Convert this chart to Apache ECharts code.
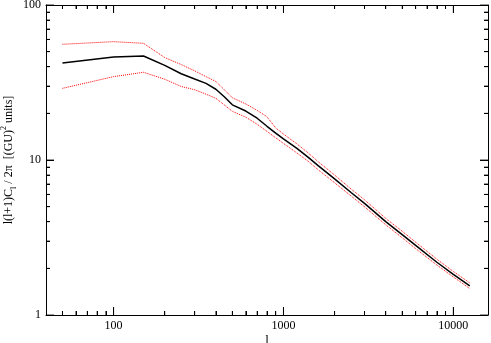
<!DOCTYPE html>
<html>
<head>
<meta charset="utf-8">
<script src="https://cdn.jsdelivr.net/npm/echarts@6/dist/echarts.min.js"></script>
<style>html,body{margin:0;padding:0;background:#fff}#c{width:491px;height:343px}</style>
</head>
<body>
<div id="c"></div>
<script>
const ells = [50,100,150,200,250,300,350,400,450,500,600,700,800,900,1000,1200,1400,1600,2000,2500,3000,4000,5000,6000,8000,10000,12500];
const meanCl = [42.3,46.2,46.9,40.8,36.0,33.3,31.2,28.6,25.5,22.7,20.7,18.6,16.5,14.9,13.7,11.9,10.4,9.2,7.55,6.17,5.25,4.0,3.3,2.81,2.19,1.83,1.54];
const upperCl = [55.8,58.0,56.6,45.8,41.3,37.6,34.5,32.1,28.3,25.2,23.0,20.9,19.0,16.1,14.7,12.7,11.1,9.75,8.0,6.5,5.54,4.2,3.47,2.95,2.29,1.91,1.61];
const lowerCl = [29.0,34.5,36.8,33.2,29.8,28.4,26.6,25.0,22.6,20.6,18.9,17.0,15.3,13.9,12.8,11.1,9.8,8.65,7.13,5.86,4.99,3.82,3.15,2.68,2.10,1.76,1.48];
const xMajor = [100,1000,10000];
const xMinor = [50,60,70,80,90,200,300,400,500,600,700,800,900,2000,3000,4000,5000,6000,7000,8000,9000];
const yMajor = [1,10,100];
const yMinor = [2,3,4,5,6,7,8,9,20,30,40,50,60,70,80,90];
const xTitle = 'l';
const yTitle = '{m|l(l+1)C}{s|l}{m| / 2π  [(GU)}{p|2}{m| units]}';

const FONT = 'Liberation Serif';
const XR = [40,16000], YR = [1,100];
const pair = arr => ells.map((l,i)=>[l,arr[i]]);
const MAJOR_LEN = 8, MINOR_LEN = 4;

function frameAx(r, pos, labels){
  return {
    type:'log', min:r[0], max:r[1], position:pos,
    axisLine:{show:true, onZero:false, lineStyle:{color:'#000',width:1}},
    axisTick:{show:false},
    axisLabel:{show:!!labels, customValues: labels || undefined, color:'#000', fontFamily:FONT, fontSize:12, margin:5,
               formatter: v => String(Math.round(v))},
    minorTick:{show:false}, splitLine:{show:false}
  };
}
// tick-only log axes (no line, no visible labels)
function tickAx(r, pos, ticks, len){
  return {
    type:'log', min:r[0], max:r[1], position:pos,
    axisLine:{show:false, onZero:false, lineStyle:{color:'#000',width:1}},
    axisTick:{show:true, inside:true, length:len, customValues:ticks, lineStyle:{color:'#000',width:1}},
    axisLabel:{show:false, customValues:ticks, color:'#000', fontFamily:FONT, fontSize:12,
               formatter: v => String(Math.round(v))},
    minorTick:{show:false}, splitLine:{show:false}
  };
}
const xs = [frameAx(XR,'bottom', xMajor), frameAx(XR,'top', null),
            tickAx(XR,'bottom', xMajor, MAJOR_LEN), tickAx(XR,'bottom', xMinor, MINOR_LEN),
            tickAx(XR,'top', xMajor, MAJOR_LEN), tickAx(XR,'top', xMinor, MINOR_LEN)];
xs[0].name = xTitle; xs[0].nameLocation='middle'; xs[0].nameGap=19; xs[0].nameMoveOverlap=false;
xs[0].nameTextStyle = {color:'#000', fontFamily:FONT, fontSize:13};
const ys = [frameAx(YR,'left', yMajor), frameAx(YR,'right', null),
            tickAx(YR,'left', yMajor, MAJOR_LEN), tickAx(YR,'left', yMinor, MINOR_LEN),
            tickAx(YR,'right', yMajor, MAJOR_LEN), tickAx(YR,'right', yMinor, MINOR_LEN)];
ys[0].name = yTitle;
ys[0].nameLocation='middle'; ys[0].nameGap=28; ys[0].nameRotate=90; ys[0].nameMoveOverlap=false;
ys[0].nameTextStyle = {color:'#000', fontFamily:FONT, fontSize:12, rich:{
  m:{fontFamily:FONT, fontSize:12, color:'#000', lineHeight:18, verticalAlign:'middle'},
  s:{fontFamily:FONT, fontSize:8, color:'#000', verticalAlign:'bottom', lineHeight:18},
  p:{fontFamily:FONT, fontSize:8, color:'#000', verticalAlign:'top', lineHeight:18}
}};

// fallback: the same inward ticks as thin rect symbols placed through the log axes
function tickSeries(items){
  return {type:'scatter', xAxisIndex:0, yAxisIndex:0, silent:true, clip:false, z:5, symbol:'rect',
          itemStyle:{color:'#000'}, emphasis:{disabled:true}, data:items};
}
const lenOf = (v, major) => major.includes(v) ? MAJOR_LEN : MINOR_LEN;
const xTicks = xMajor.concat(xMinor);
const yTicks = yMajor.concat(yMinor);
const bottomTicks = tickSeries(xTicks.map(v => { const L = lenOf(v, xMajor); return {value:[v, YR[0]], symbolSize:[1, L], symbolOffset:[0, -L/2]}; }));
const topTicks    = tickSeries(xTicks.map(v => { const L = lenOf(v, xMajor); return {value:[v, YR[1]], symbolSize:[1, L], symbolOffset:[0,  L/2]}; }));
const leftTicks   = tickSeries(yTicks.map(v => { const L = lenOf(v, yMajor); return {value:[XR[0], v], symbolSize:[L, 1], symbolOffset:[ L/2, 0]}; }));
const rightTicks  = tickSeries(yTicks.map(v => { const L = lenOf(v, yMajor); return {value:[XR[1], v], symbolSize:[L, 1], symbolOffset:[-L/2, 0]}; }));

const chart = echarts.init(document.getElementById('c'), null, {renderer:'canvas'});
chart.setOption({
  animation:false,
  backgroundColor:'#fff',
  grid:{left:46, right:3, top:5, bottom:28, containLabel:false, outerBoundsMode:'none'},
  xAxis: xs,
  yAxis: ys,
  series:[
    {type:'line', xAxisIndex:0, yAxisIndex:0, data:pair(upperCl), showSymbol:false, symbol:'none', lineStyle:{color:'#ff0000', width:1, type:'dotted'}, z:2},
    {type:'line', xAxisIndex:0, yAxisIndex:0, data:pair(lowerCl), showSymbol:false, symbol:'none', lineStyle:{color:'#ff0000', width:1, type:'dotted'}, z:2},
    {type:'line', xAxisIndex:0, yAxisIndex:0, data:pair(meanCl), showSymbol:false, symbol:'none', lineStyle:{color:'#000', width:1.5}, z:3},
    bottomTicks, topTicks, leftTicks, rightTicks
  ]
});
</script>
</body>
</html>
